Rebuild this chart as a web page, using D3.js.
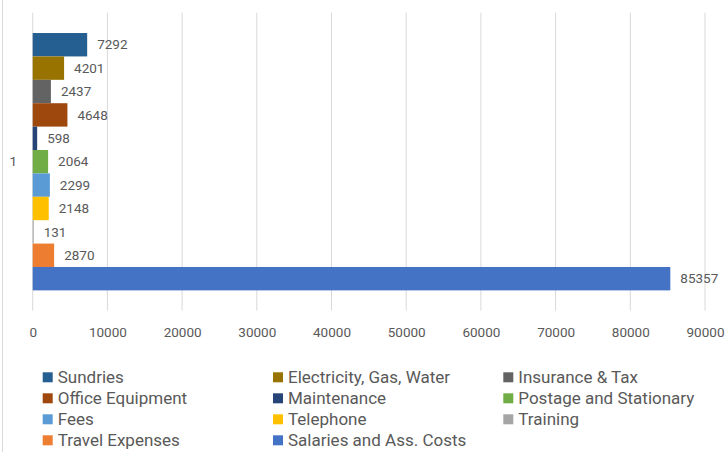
<!DOCTYPE html>
<html>
<head>
<meta charset="utf-8">
<script src="https://cdn.jsdelivr.net/npm/d3@7"></script>
<style>
  body { margin: 0; background: #fff; }
  svg { display: block; font-family: Roboto, "Liberation Sans", sans-serif; }
</style>
</head>
<body>
<svg width="725" height="452"></svg>
<script>
var categories = ["1"];
var series = [
  "Sundries", "Electricity, Gas, Water", "Insurance & Tax",
  "Office Equipment", "Maintenance", "Postage and Stationary",
  "Fees", "Telephone", "Training",
  "Travel Expenses", "Salaries and Ass. Costs"
];
var values = [7292, 4201, 2437, 4648, 598, 2064, 2299, 2148, 131, 2870, 85357];
var colors = [
  "#255e91", "#997300", "#636363",
  "#9e480e", "#264478", "#70ad47",
  "#5b9bd5", "#ffc000", "#a5a5a5",
  "#ed7d31", "#4472c4"
];
var xTicks = [0, 10000, 20000, 30000, 40000, 50000, 60000, 70000, 80000, 90000];

var svg = d3.select("svg"),
  width = +svg.attr("width"),
  height = +svg.attr("height");

var plot = { left: 32.7, right: 705, top: 12.7, bottom: 310.7 };
var textColor = "#595959";

var x = d3.scaleLinear().domain([0, 90000]).range([plot.left, plot.right]);

var y = d3.scaleBand()
  .domain(categories)
  .range([plot.top, plot.bottom])
  .paddingInner(0)
  .paddingOuter(0.079);

var ySeries = d3.scaleBand()
  .domain(series)
  .range([0, y.bandwidth()])
  .padding(0);

var color = d3.scaleOrdinal().domain(series).range(colors);

// left border of chart area
svg.append("line")
  .attr("x1", 2.5).attr("x2", 2.5)
  .attr("y1", 0).attr("y2", height)
  .attr("stroke", "#d9d9d9");

// gridlines
svg.append("g")
  .selectAll("line")
  .data(xTicks)
  .enter()
  .append("line")
  .attr("x1", function (d) { return x(d); })
  .attr("x2", function (d) { return x(d); })
  .attr("y1", plot.top)
  .attr("y2", plot.bottom)
  .attr("stroke", "#d9d9d9")
  .attr("stroke-width", 1);

// x axis labels
var xAxis = d3.axisBottom(x).tickValues(xTicks).tickSize(0).tickPadding(0)
  .tickFormat(d3.format("d"));
var gx = svg.append("g")
  .attr("transform", "translate(0," + (plot.bottom + 17) + ")")
  .call(xAxis);
gx.select(".domain").remove();
gx.selectAll("text")
  .attr("fill", textColor)
  .style("font-size", "13.5px")
  .style("font-family", "Roboto, sans-serif");

// category label
var yAxis = d3.axisLeft(y).tickSize(0).tickPadding(0);
var gy = svg.append("g")
  .attr("transform", "translate(17,0)")
  .call(yAxis);
gy.select(".domain").remove();
gy.selectAll("text")
  .attr("fill", textColor)
  .style("font-size", "13.5px")
  .style("font-family", "Roboto, sans-serif");

var data = series.map(function (s, i) {
  return { cat: categories[0], name: s, value: values[i] };
});

var bars = svg.append("g")
  .selectAll("rect")
  .data(data)
  .enter()
  .append("rect")
  .attr("x", x(0))
  .attr("y", function (d) { return y(d.cat) + ySeries(d.name); })
  .attr("width", function (d) { return x(d.value) - x(0); })
  .attr("height", ySeries.bandwidth())
  .attr("fill", function (d) { return color(d.name); });

svg.append("g")
  .selectAll("text")
  .data(data)
  .enter()
  .append("text")
  .attr("x", function (d) { return x(d.value) + 10; })
  .attr("y", function (d) { return y(d.cat) + ySeries(d.name) + ySeries.bandwidth() / 2; })
  .attr("dy", "0.35em")
  .attr("fill", textColor)
  .style("font-size", "13.5px")
  .text(function (d) { return d.value; });

// legend
var legend = svg.append("g")
  .selectAll("g")
  .data(series)
  .enter()
  .append("g")
  .attr("transform", function (d, i) {
    var col = i % 3, row = Math.floor(i / 3);
    return "translate(" + (42.7 + col * 230.3) + "," + (377.3 + row * 21) + ")";
  });

legend.append("rect")
  .attr("x", 0)
  .attr("y", -5)
  .attr("width", 10)
  .attr("height", 10)
  .attr("fill", function (d) { return color(d); });

legend.append("text")
  .attr("x", 15)
  .attr("y", 0)
  .attr("dy", "0.35em")
  .attr("fill", textColor)
  .style("font-size", "17px")
  .text(function (d) { return d; });
</script>
</body>
</html>
